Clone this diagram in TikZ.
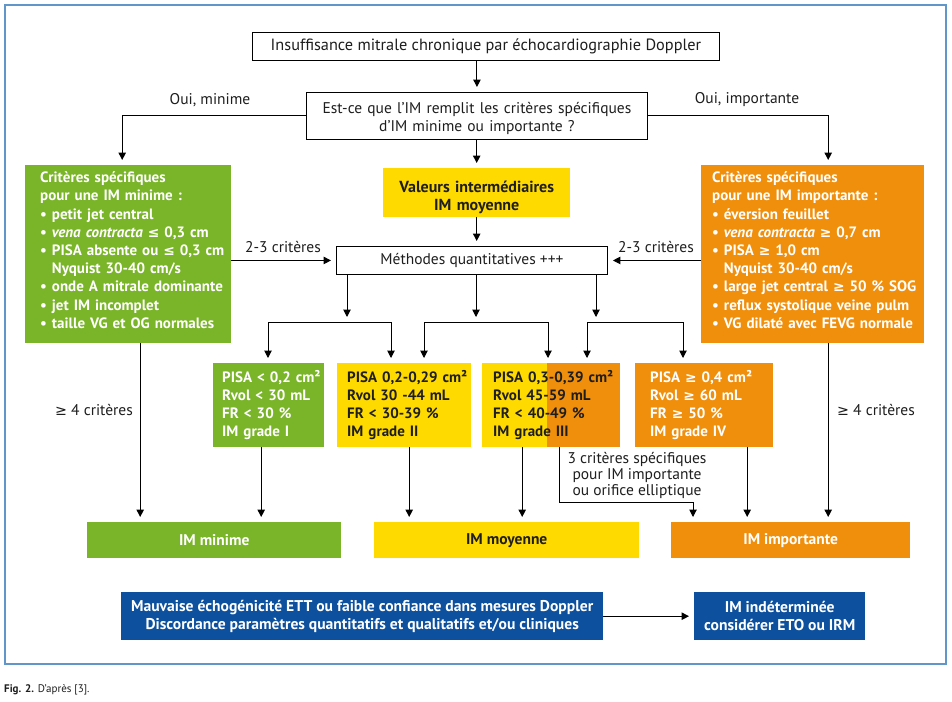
\documentclass[tikz,border=0pt]{standalone}
\usepackage{fontspec}
\setmainfont{PT Sans}
\newfontfamily\dvfont[Scale=0.92]{DejaVu Sans}
\usetikzlibrary{arrows.meta}
\definecolor{cgreen}{RGB}{122,181,41}
\definecolor{cyellow}{RGB}{255,218,0}
\definecolor{corange}{RGB}{240,143,12}
\definecolor{cblue}{RGB}{12,80,158}
\definecolor{cframe}{RGB}{96,150,200}
\definecolor{ctext}{RGB}{30,30,30}
\newcommand\fmain{\fontsize{15.5}{18}\selectfont}
\newcommand\fbold{\fontsize{15}{18.2}\selectfont\bfseries}
\newcommand\bul{\textbullet\ }
\newcommand\ind{\hphantom{\textbullet\ }}
\newcommand\sge{{\dvfont ≥}}
\newcommand\sle{{\dvfont ≤}}
\begin{document}
\begin{tikzpicture}[x=1pt,y=-1pt,
  arr/.style={draw=black, line width=1pt, -{Triangle[width=7.5pt,length=7.5pt]}, shorten >=5pt},
  arrtwo/.style={draw=black, line width=1pt, {Triangle[width=7.5pt,length=7.5pt]}-{Triangle[width=7.5pt,length=7.5pt]}, shorten >=5pt, shorten <=5pt},
  wbox/.style={draw=black, line width=0.9pt, fill=white, inner sep=0pt, anchor=north west, align=center, text=ctext, font=\fmain},
  cbox/.style={inner sep=0pt, anchor=north west, font=\fbold},
  lbox/.style={inner sep=0pt, anchor=north west, font=\fbold, align=left},
  lbl/.style={inner sep=0pt, font=\fmain, text=ctext},
]
\fill[white] (0,0) rectangle (952,701);
\useasboundingbox (0,0) rectangle (952,701);
\draw[cframe, line width=2pt] (5,5) rectangle (946,664);

% top
\node[wbox, minimum width=467pt, minimum height=28pt, font=\fontsize{16.3}{18}\selectfont] (top) at (252,32) {Insuffisance mitrale chronique par échocardiographie Doppler};
\node[wbox, minimum width=341pt, minimum height=47pt, text width=341pt] (q) at (306,92) {Est-ce que l’IM remplit les critères spécifiques\\d’IM minime ou importante ?\par\vspace*{-6pt}};

% criteria boxes
\node[lbox, fill=cgreen, text=white, minimum height=178pt, text width=206pt] (cmin) at (25,165)
 {\leftskip=15pt Critères spécifiques\\pour une IM minime :\\\bul petit jet central\\\bul\textit{vena contracta} \sle\ 0,3 cm\\\bul PISA absente ou \sle\ 0,3 cm\\\ind Nyquist 30-40 cm/s\\\bul onde A mitrale dominante\\\bul jet IM incomplet\\\bul taille VG et OG normales\par\vspace*{8pt}};
\node[lbox, fill=corange, text=white, minimum height=178pt, text width=223pt] (cimp) at (701,165)
 {\leftskip=11pt Critères spécifiques\\pour une IM importante :\\\bul éversion feuillet\\\bul\textit{vena contracta} \sge\ 0,7 cm\\\bul PISA \sge\ 1,0 cm\\\ind Nyquist 30-40 cm/s\\\bul large jet central \sge\ 50 \% SOG\\\bul reflux systolique veine pulm\\\bul VG dilaté avec FEVG normale\par\vspace*{8pt}};

\node[cbox, fill=cyellow, text=ctext, minimum width=187pt, minimum height=49pt, text width=187pt, align=center, font=\fontsize{16}{17.5}\selectfont\bfseries] (val) at (383,168) {Valeurs intermédiaires\\IM moyenne\par\vspace*{-9pt}};
\node[wbox, minimum width=271pt, minimum height=28pt] (meth) at (336,246) {Méthodes quantitatives +++};

% grade boxes
\node[lbox, fill=cgreen, text=white, minimum height=84pt, text width=111pt] (g1) at (213,363)
 {\leftskip=9pt PISA < 0,2 cm²\\Rvol < 30 mL\\FR < 30 \%\\IM grade I\par};
\node[lbox, fill=cyellow, text=ctext, minimum height=84pt, text width=134pt] (g2) at (337,363)
 {\leftskip=10pt PISA 0,2-0,29 cm²\\Rvol 30 -44 mL\\FR < 30-39 \%\\IM grade II\par};
\node[lbox, fill=cyellow, text=ctext, minimum height=84pt, text width=138pt,
  path picture={\fill[corange] ([xshift=65pt]path picture bounding box.north west) rectangle (path picture bounding box.south east);}] (g3) at (482,363)
 {\leftskip=11pt PISA 0,3-0,39 cm²\\Rvol 45-59 mL\\FR < 40-49 \%\\IM grade III\par};
\node[lbox, fill=corange, text=white, minimum height=84pt, text width=138pt] (g4) at (635,363)
 {\leftskip=15pt PISA \sge\ 0,4 cm²\\Rvol \sge\ 60 mL\\FR \sge\ 50 \%\\IM grade IV\par};

% result boxes
\node[cbox, fill=cgreen, text=white, minimum width=254pt, minimum height=36pt, font=\fontsize{15.5}{18}\selectfont\bfseries] (rmin) at (87,522) {IM minime};
\node[cbox, fill=cyellow, text=ctext, minimum width=265pt, minimum height=36pt, font=\fontsize{15.5}{18}\selectfont\bfseries] (rmoy) at (374,522) {IM moyenne};
\node[cbox, fill=corange, text=white, minimum width=239pt, minimum height=36pt, font=\fontsize{15.5}{18}\selectfont\bfseries] (rimp) at (671,522) {IM importante};

\node[cbox, fill=cblue, text=white, minimum width=482pt, minimum height=48pt, align=center, font=\fontsize{15.6}{18}\selectfont\bfseries] (bl1) at (121,592)
 {Mauvaise échogénicité ETT ou faible confiance dans mesures Doppler\\Discordance paramètres quantitatifs et qualitatifs et/ou cliniques};
\node[cbox, fill=cblue, text=white, minimum width=171pt, minimum height=48pt, align=center, font=\fontsize{15.6}{18}\selectfont\bfseries] (bl2) at (694,592)
 {IM indéterminée\\considérer ETO ou IRM};

% labels
\node[lbl] (lmin) at (210,100) {Oui, minime};
\node[lbl] (limp) at (747,100) {Oui, importante};
\node[lbl] (l23a) at (283,247) {2-3 critères};
\node[lbl] (l23b) at (656,247) {2-3 critères};
\node[lbl] (l4a) at (94,410) {\sge\ 4 critères};
\node[lbl] (l4b) at (876,410) {\sge\ 4 critères};
\node[lbl, align=center, font=\fontsize{15.5}{16}\selectfont] (l3) at (637,475) {3 critères spécifiques\\pour IM importante\\ou orifice elliptique};
\node[inner sep=0pt, anchor=west, font=\fontsize{11}{13}\selectfont, text=ctext] (cap) at (4,690) {\textbf{Fig. 2.} D’après [3].};

% coordinates
\coordinate (b1l) at (268,322); \coordinate (b1r) at (391,322);
\coordinate (b2l) at (424,322); \coordinate (b2r) at (548,322);
\coordinate (b3l) at (587,322); \coordinate (b3r) at (683,322);
\coordinate (m1) at (347,322); \coordinate (m2) at (476,322); \coordinate (m3) at (596,322);
\coordinate (c3) at (693,502);

% connectors
\draw[arr] (top.south -| q.north) -- (q.north);
\draw[arr] (q.west) -| ([xshift=-6pt]cmin.north);
\draw[arr] (q.east) -| ([xshift=15.5pt]cimp.north);
\draw[arr] (q.south -| val.north) -- (val.north);
\draw[arr] (val.south) -- (val.south |- meth.north);
\draw[arr] (meth.west -| cmin.east) -- (meth.west);
\draw[arr] (meth.east -| cimp.west) -- (meth.east);
\draw[arr] (m1 |- meth.south) -- (m1);
\draw[arr] (m2 |- meth.south) -- (m2);
\draw[arr] (m3 |- meth.south) -- (m3);
\draw[arrtwo] (g1.north -| b1l) |- (b1r) -- (g2.north -| b1r);
\draw[arrtwo] (g2.north -| b2l) |- (b2r) -- (g3.north -| b2r);
\draw[arrtwo] (g3.north -| b3l) |- (b3r) -- (g4.north -| b3r);

\draw[arr] ([xshift=12pt]cmin.south) -- ([xshift=12pt]cmin.south |- rmin.north);
\draw[arr] ([xshift=-7.5pt]g1.south) -- ([xshift=-7.5pt]g1.south |- rmin.north);
\draw[arr] ([xshift=5pt]g2.south) -- ([xshift=5pt]g2.south |- rmoy.north);
\draw[arr] ([xshift=-29pt]g3.south) -- ([xshift=-29pt]g3.south |- rmoy.north);
\draw[arr] ([xshift=8pt]g3.south) |- (c3) -- (c3 |- rimp.north);
\draw[arr] ([xshift=43pt]g4.south) -- ([xshift=43pt]g4.south |- rimp.north);
\draw[arr] ([xshift=15.5pt]cimp.south) -- ([xshift=15.5pt]cimp.south |- rimp.north);
\draw[arr] (bl1.east) -- (bl2.west);
\end{tikzpicture}
\end{document}
